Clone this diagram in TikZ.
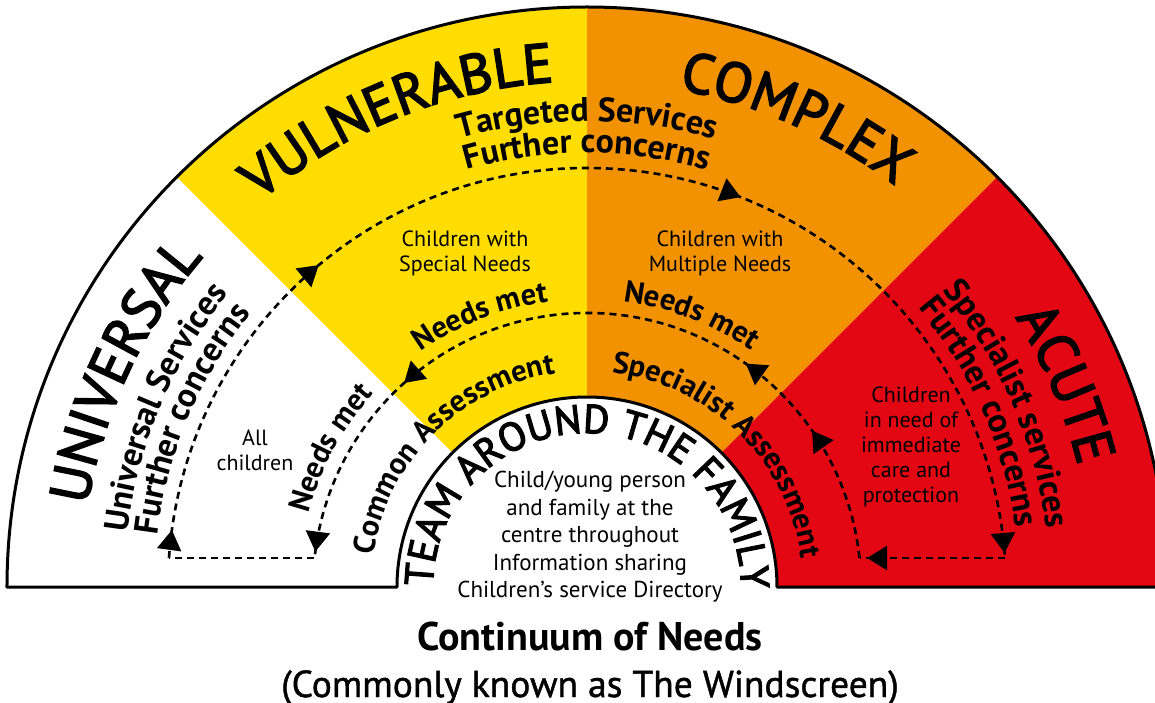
\documentclass[tikz,border=0pt]{standalone}
\usepackage{fontspec}
\setmainfont{PT Sans}
\newfontfamily\medsans[FakeBold=1.2]{PT Sans}
\newfontfamily\ttlsans[FakeBold=3]{PT Sans}
\usetikzlibrary{decorations.text,decorations.markings,arrows.meta}
\definecolor{wyellow}{HTML}{FFDD00}
\definecolor{worange}{HTML}{F39200}
\definecolor{wred}{HTML}{E30613}
\tikzset{
  dashline/.style={line width=2.6pt, dash pattern=on 7pt off 5pt},
  arrowat/.style={postaction={decorate,decoration={markings,
      mark=at position #1 with {\pgfsetdash{}{0pt}\arrow{Triangle[length=20pt,width=24pt]}}}}},
  arctext/.style={decorate,decoration={text along path,text align=center,text={#1}}},
  plain/.style={align=center,font=\fontsize{22}{25}\selectfont,inner sep=0pt},
}
\newcommand{\ttlfont}{\ttlsans\fontsize{56}{64}\selectfont}
\newcommand{\midfont}{\bfseries\fontsize{34}{40}\selectfont}
\newcommand{\innfont}{\bfseries\fontsize{30.5}{36}\selectfont}
\begin{document}
\begin{tikzpicture}[x=1pt,y=1pt]
\fill[white] (-587,-115) rectangle (568,587);
\useasboundingbox (-587,-115) rectangle (568,587);
% sectors
\fill[white]   (180:190) -- (180:580) arc[start angle=180,end angle=135,radius=580] -- (135:190) arc[start angle=135,end angle=180,radius=190] -- cycle;
\fill[wyellow] (135:190) -- (135:580) arc[start angle=135,end angle=90,radius=580] -- (90:190) arc[start angle=90,end angle=135,radius=190] -- cycle;
\fill[worange] (90:190) -- (90:580) arc[start angle=90,end angle=45,radius=580] -- (45:190) arc[start angle=45,end angle=90,radius=190] -- cycle;
\fill[wred]    (45:190) -- (45:580) arc[start angle=45,end angle=0,radius=580] -- (0:190) arc[start angle=0,end angle=45,radius=190] -- cycle;
\draw[line width=3pt,line join=round] (-580,0) arc[start angle=180,end angle=0,radius=580] -- (190,0) arc[start angle=0,end angle=180,radius=190] -- cycle;

% titles
\path[arctext={|\ttlfont|UNIVERSAL}] (185:506) arc[start angle=185,end angle=125,radius=506];
\path[arctext={|\ttlfont|VULNERABLE}] (142:506) arc[start angle=142,end angle=82,radius=506];
\path[arctext={|\ttlfont|COMPLEX}] (96:506) arc[start angle=96,end angle=36,radius=506];
\path[arctext={|\ttlfont|ACUTE}] (53:506) arc[start angle=53,end angle=-7,radius=506];

% second ring
\path[arctext={|\midfont|Universal Services}] (182:463) arc[start angle=182,end angle=132,radius=463];
\path[arctext={|\midfont|Further concerns}] (182:433) arc[start angle=182,end angle=132,radius=433];
\path[arctext={|\midfont|Targeted Services}] (115:466) arc[start angle=115,end angle=65,radius=466];
\path[arctext={|\midfont|Further concerns}] (115:434) arc[start angle=115,end angle=65,radius=434];
\path[arctext={|\midfont|Specialist services}] (48.5:463) arc[start angle=48.5,end angle=-1.5,radius=463];
\path[arctext={|\midfont|Further concerns}] (49:433) arc[start angle=49,end angle=-1,radius=433];

% inner ring
\path[arctext={|\innfont|Common Assessment}] (179:216) arc[start angle=179,end angle=91,radius=216];
\path[arctext={|\innfont|Specialist Assessment}] (89.5:216) arc[start angle=89.5,end angle=1.5,radius=216];
\path[arctext={|\innfont|Needs met}] (179.5:288) arc[start angle=179.5,end angle=123.5,radius=288];
\path[arctext={|\innfont|Needs met}] (139.5:288) arc[start angle=139.5,end angle=83.5,radius=288];
\path[arctext={|\innfont|Needs met}] (97:288) arc[start angle=97,end angle=41,radius=288];

% team around the family
\path[arctext={|\ttlsans\fontsize{40}{48}\selectfont|TEAM AROUND THE FAMILY}] (180:154) arc[start angle=180,end angle=-1,radius=154];

% loop coordinates
\coordinate (Lin) at (-272.5,29);
\coordinate (Lout) at (-418,29);
\coordinate (Rout) at (418,29);
\coordinate (Rin) at (272.5,29);
\draw[dashline,arrowat=0.0224,arrowat=0.2687,arrowat=0.625,arrowat=0.996] (Lout) arc[start angle=176.03,end angle=3.97,radius=419];
\draw[dashline,arrowat=0.948] (Rout) -- (Rin);
\draw[dashline,arrowat=0.171,arrowat=0.289,arrowat=0.7496,arrowat=0.992] (Rin) arc[start angle=6.07,end angle=173.93,radius=274];
\draw[dashline] (Lin) -- (Lout);

% plain texts
\node[plain] (allc) at (-332,137) {All\\children};
\node[plain] (spec) at (-122,334) {Children with\\Special Needs};
\node[plain] (mult) at (133,334) {Children with\\Multiple Needs};
\node[plain] (acut) at (324,140) {Children\\in need of\\immediate\\care and\\protection};
\node[plain,font=\fontsize{23}{27.5}\selectfont] (centre) at (3,50) {Child/young person\\and family at the\\centre throughout\\Information sharing\\Children’s service Directory};
\node[inner sep=0pt,anchor=base,font=\bfseries\fontsize{40}{46}\selectfont] (title) at (3,-63) {Continuum of Needs};
\node[inner sep=0pt,anchor=base,font=\medsans\fontsize{37.5}{44}\selectfont] (subtitle) at (3,-110) {(Commonly known as The Windscreen)};
\end{tikzpicture}
\end{document}
